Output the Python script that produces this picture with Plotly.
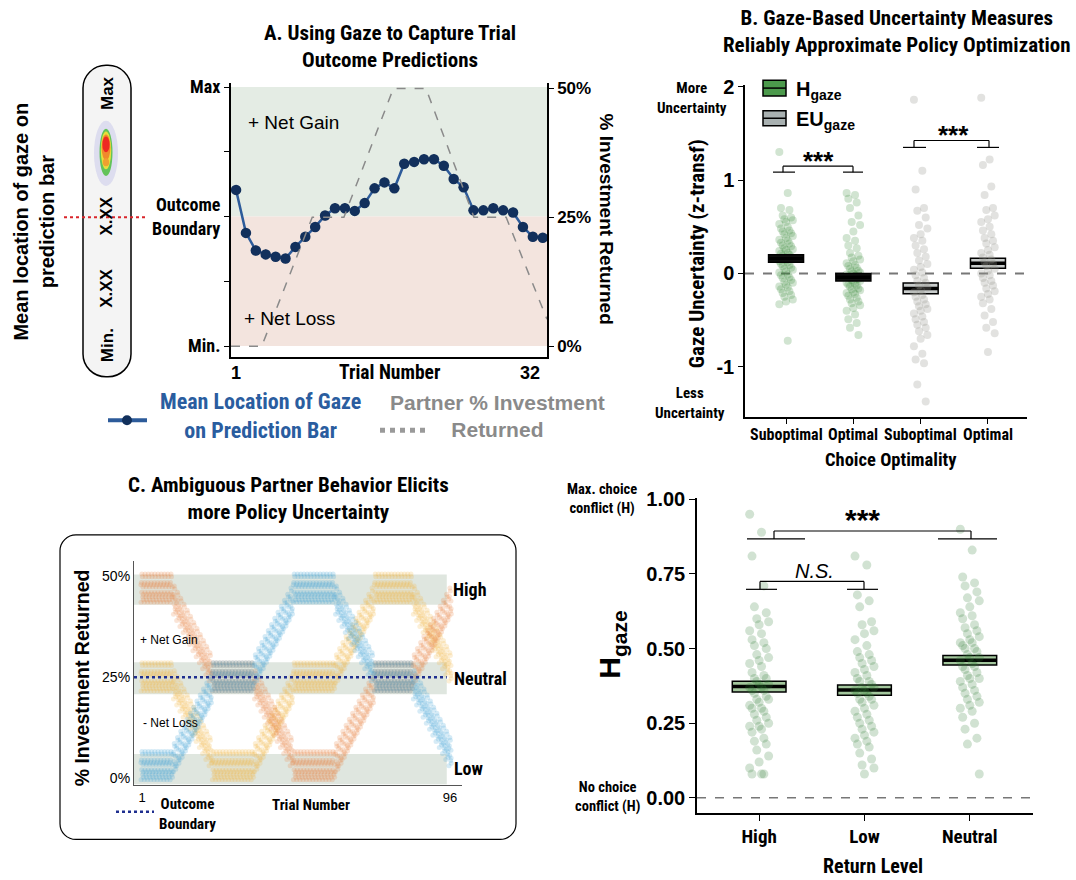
import plotly.graph_objects as go

W, H = 1076, 880
COND = "Roboto Condensed, Liberation Sans Narrow, Lato"
REG = "Liberation Sans"

# ---------------- DATA ----------------
# Panel A: mean gaze location on prediction bar (0 = Min, 0.5 = boundary, 1 = Max)
trials_a = list(range(1, 33))
gaze_mean = [0.603, 0.437, 0.369, 0.354, 0.345, 0.338, 0.383, 0.422, 0.460, 0.504,
             0.532, 0.532, 0.522, 0.552, 0.609, 0.632, 0.609, 0.704, 0.711, 0.721,
             0.721, 0.696, 0.645, 0.613, 0.524, 0.524, 0.532, 0.524, 0.516, 0.460,
             0.422, 0.418]
partner_trial = [0.49, 3.6, 8.7, 11.9, 16.9, 20.2, 25.05, 28.3, 32.43]
partner_pct = [0, 0, 25, 25, 50, 50, 25, 25, 5.2]

# Panel B: gaze uncertainty (z-transformed)
b_ticktext = ["Suboptimal", "Optimal", "Suboptimal", "Optimal"]
b_means = [0.16, -0.04, -0.16, 0.11]
b_se = [0.04, 0.04, 0.058, 0.053]
h_sub = [1.30, 0.86, 0.70, 0.68, 0.62, 0.60, 0.58, 0.57, 0.55, 0.53, 0.50, 0.48, 0.46,
         0.45, 0.43, 0.42, 0.40, 0.38, 0.36, 0.35, 0.33, 0.32, 0.30, 0.29, 0.27, 0.26,
         0.25, 0.24, 0.22, 0.21, 0.20, 0.19, 0.18, 0.17, 0.15, 0.14, 0.13, 0.12, 0.10,
         0.09, 0.08, 0.06, 0.05, 0.04, 0.02, 0.01, -0.01, -0.02, -0.04, -0.05, -0.07,
         -0.09, -0.10, -0.12, -0.14, -0.15, -0.17, -0.19, -0.21, -0.23, -0.25, -0.28,
         -0.30, -0.33, -0.72]
h_opt = [0.86, 0.84, 0.80, 0.76, 0.70, 0.62, 0.55, 0.52, 0.45, 0.38, 0.35, 0.30, 0.27,
         0.22, 0.19, 0.17, 0.15, 0.13, 0.11, 0.09, 0.08, 0.06, 0.05, 0.03, 0.02, 0.01,
         0.00, -0.01, -0.02, -0.03, -0.04, -0.05, -0.06, -0.07, -0.08, -0.09, -0.10,
         -0.11, -0.12, -0.13, -0.14, -0.16, -0.17, -0.18, -0.20, -0.21, -0.22, -0.24,
         -0.26, -0.28, -0.30, -0.32, -0.34, -0.37, -0.40, -0.44, -0.49, -0.53, -0.58, -0.66]
eu_sub = [1.86, 1.10, 0.90, 0.70, 0.67, 0.60, 0.52, 0.48, 0.42, 0.38, 0.35, 0.30, 0.26,
          0.22, 0.18, 0.14, 0.10, 0.07, 0.04, 0.01, -0.02, -0.05, -0.08, -0.10, -0.13,
          -0.15, -0.18, -0.20, -0.23, -0.25, -0.28, -0.30, -0.33, -0.35, -0.38, -0.40,
          -0.43, -0.46, -0.49, -0.52, -0.55, -0.58, -0.62, -0.66, -0.70, -0.78, -0.86,
          -0.92, -0.96, -1.19, -1.37]
eu_opt = [1.88, 1.22, 1.16, 0.93, 0.84, 0.70, 0.68, 0.62, 0.58, 0.55, 0.50, 0.46, 0.42,
          0.38, 0.35, 0.32, 0.28, 0.25, 0.22, 0.20, 0.17, 0.15, 0.12, 0.10, 0.08, 0.05,
          0.03, 0.00, -0.02, -0.05, -0.08, -0.10, -0.13, -0.16, -0.19, -0.22, -0.25,
          -0.28, -0.32, -0.38, -0.45, -0.52, -0.58, -0.64, -0.84]

# Panel C: % investment returned per trial for three partner schedules
trials_c = list(range(1, 97))
orange_c = [47, 47, 47, 47, 47, 47, 47, 47, 47, 47,
            44, 42.5, 41, 39.5, 38, 36.5, 35, 33.5, 32, 30.5, 29, 27.5,
            25, 25, 25, 25, 25, 25, 25, 25, 25, 25, 25, 25, 25,
            23, 21.5, 20, 18.5, 17, 15.5, 14, 12.5, 11, 9.5, 8, 6.5,
            3, 3, 3, 3, 3, 3, 3, 3, 3, 3, 3, 3, 3,
            5, 6.5, 8, 9.5, 11, 12.5, 14, 15.5, 17, 18.5, 20, 21.5,
            25, 25, 25, 25, 25, 25, 25, 25, 25, 25, 25, 25,
            27, 28.5, 30, 31.5, 33, 34.5, 36, 37.5, 39, 40.5, 42, 43.5]
blue_c = [3, 3, 3, 3, 3, 3, 3, 3, 3, 3,
          5, 6.5, 8, 9.5, 11, 12.5, 14, 15.5, 17, 18.5, 20, 21.5,
          25, 25, 25, 25, 25, 25, 25, 25, 25, 25, 25, 25, 25,
          27, 28.5, 30, 31.5, 33, 34.5, 36, 37.5, 39, 40.5, 42, 43.5,
          47, 47, 47, 47, 47, 47, 47, 47, 47, 47, 47, 47, 47,
          44, 42.5, 41, 39.5, 38, 36.5, 35, 33.5, 32, 30.5, 29, 27.5,
          25, 25, 25, 25, 25, 25, 25, 25, 25, 25, 25, 25,
          23, 21.5, 20, 18.5, 17, 15.5, 14, 12.5, 11, 9.5, 8, 6.5]
yellow_c = [25, 25, 25, 25, 25, 25, 25, 25, 25, 25,
            23, 21.5, 20, 18.5, 17, 15.5, 14, 12.5, 11, 9.5, 8, 6.5,
            3, 3, 3, 3, 3, 3, 3, 3, 3, 3, 3, 3, 3,
            5, 6.5, 8, 9.5, 11, 12.5, 14, 15.5, 17, 18.5, 20, 21.5,
            25, 25, 25, 25, 25, 25, 25, 25, 25, 25, 25, 25, 25,
            27, 28.5, 30, 31.5, 33, 34.5, 36, 37.5, 39, 40.5, 42, 43.5,
            47, 47, 47, 47, 47, 47, 47, 47, 47, 47, 47, 47,
            44, 42.5, 41, 39.5, 38, 36.5, 35, 33.5, 32, 30.5, 29, 27.5]
bands_c = [("High", 43.0, 50.5), ("Neutral", 20.8, 28.7), ("Low", -1.5, 6.0)]

# Panel D: H_gaze by return level
d_ticktext = ["High", "Low", "Neutral"]
d_means = [0.373, 0.361, 0.461]
d_se = [0.018, 0.017, 0.016]
d_high = [0.95, 0.89, 0.81, 0.71, 0.64, 0.62, 0.60, 0.59, 0.58, 0.56, 0.55, 0.53, 0.52,
          0.51, 0.50, 0.48, 0.47, 0.46, 0.45, 0.44, 0.42, 0.41, 0.40, 0.40, 0.39, 0.38,
          0.38, 0.37, 0.37, 0.36, 0.36, 0.35, 0.34, 0.33, 0.33, 0.32, 0.31, 0.30, 0.30,
          0.29, 0.28, 0.27, 0.26, 0.25, 0.24, 0.24, 0.23, 0.22, 0.20, 0.19, 0.18, 0.16,
          0.14, 0.12, 0.10, 0.08, 0.08, 0.08]
d_low = [0.81, 0.78, 0.68, 0.66, 0.64, 0.59, 0.58, 0.56, 0.55, 0.53, 0.51, 0.49, 0.48,
         0.47, 0.46, 0.45, 0.44, 0.43, 0.42, 0.41, 0.40, 0.39, 0.39, 0.38, 0.37, 0.37,
         0.36, 0.36, 0.35, 0.35, 0.34, 0.33, 0.33, 0.32, 0.31, 0.30, 0.29, 0.28, 0.27,
         0.26, 0.25, 0.24, 0.23, 0.22, 0.21, 0.20, 0.19, 0.18, 0.17, 0.15, 0.13, 0.11,
         0.10, 0.08]
d_neutral = [0.90, 0.83, 0.74, 0.72, 0.71, 0.69, 0.67, 0.66, 0.64, 0.62, 0.61, 0.60,
             0.58, 0.57, 0.56, 0.55, 0.54, 0.53, 0.52, 0.52, 0.51, 0.50, 0.50, 0.49,
             0.48, 0.47, 0.47, 0.46, 0.45, 0.44, 0.44, 0.43, 0.42, 0.41, 0.40, 0.40,
             0.39, 0.38, 0.37, 0.36, 0.35, 0.34, 0.33, 0.32, 0.31, 0.30, 0.29, 0.27,
             0.25, 0.23, 0.20, 0.18, 0.08]


# ---------------- helpers ----------------
def X(p):
    return p / W


def Y(p):
    return 1 - p / H


fig = go.Figure()


def ann(text, x, y, size, color="black", family=COND, bold=True, angle=0,
        xanchor="center", italic=False, xref="paper"):
    fig.add_annotation(text=text, x=X(x) if xref == "paper" else x, y=Y(y),
                       xref=xref, yref="paper",
                       showarrow=False, textangle=angle, xanchor=xanchor,
                       yanchor="middle", align="center",
                       font=dict(family=family, size=size, color=color,
                                 weight="bold" if bold else "normal",
                                 style="italic" if italic else "normal"))


def seg(x0, y0, x1, y1, color="black", width=1.2, dash="solid"):
    fig.add_shape(type="line", xref="paper", yref="paper", x0=X(x0), y0=Y(y0),
                  x1=X(x1), y1=Y(y1), line=dict(color=color, width=width, dash=dash))


def rrect(x0, y0, x1, y1, r, fill, lw, layer="below"):
    k = 0.5523 * r
    p = (f"M {X(x0 + r)},{Y(y0)} L {X(x1 - r)},{Y(y0)} "
         f"C {X(x1 - r + k)},{Y(y0)} {X(x1)},{Y(y0 + r - k)} {X(x1)},{Y(y0 + r)} "
         f"L {X(x1)},{Y(y1 - r)} "
         f"C {X(x1)},{Y(y1 - r + k)} {X(x1 - r + k)},{Y(y1)} {X(x1 - r)},{Y(y1)} "
         f"L {X(x0 + r)},{Y(y1)} "
         f"C {X(x0 + r - k)},{Y(y1)} {X(x0)},{Y(y1 - r + k)} {X(x0)},{Y(y1 - r)} "
         f"L {X(x0)},{Y(y0 + r)} "
         f"C {X(x0)},{Y(y0 + r - k)} {X(x0 + r - k)},{Y(y0)} {X(x0 + r)},{Y(y0)} Z")
    fig.add_shape(type="path", path=p, xref="paper", yref="paper", fillcolor=fill,
                  line=dict(color="black", width=lw), layer=layer)


def ell(cx, cy, rx, ry, color):
    fig.add_shape(type="circle", xref="paper", yref="paper", x0=X(cx - rx), x1=X(cx + rx),
                  y0=Y(cy + ry), y1=Y(cy - ry), fillcolor=color, line=dict(width=0))


def jitter(n, amp):
    return [amp * (((i * 5) % 9) - 4) / 4 for i in range(n)]


def crossbar(xr, yr, cx, mean, se, hw, fill, layer):
    fig.add_shape(type="rect", xref=xr, yref=yr, x0=cx - hw, x1=cx + hw,
                  y0=mean - se, y1=mean + se, fillcolor=fill,
                  line=dict(color="black", width=1.5), layer=layer)
    fig.add_shape(type="line", xref=xr, yref=yr, x0=cx - hw, x1=cx + hw,
                  y0=mean, y1=mean, line=dict(color="black", width=3.5), layer=layer)


# ---------------- Panel A ----------------
fig.add_shape(type="rect", xref="x domain", yref="y", x0=0, x1=1, y0=0.5, y1=1,
              fillcolor="#e4ece4", line=dict(width=0), layer="below")
fig.add_shape(type="rect", xref="x domain", yref="y", x0=0, x1=1, y0=0, y1=0.5,
              fillcolor="#f3e4de", line=dict(width=0), layer="below")
fig.add_trace(go.Scatter(x=trials_a, y=gaze_mean, mode="lines+markers",
                         line=dict(color="#2d5b9a", width=2.5),
                         marker=dict(size=10.5, color="#12305c"),
                         error_y=dict(type="constant", value=0.018, color="black",
                                      thickness=1.5, width=0),
                         xaxis="x", yaxis="y", showlegend=False, hoverinfo="skip"))
fig.add_trace(go.Scatter(x=partner_trial, y=partner_pct, mode="lines",
                         line=dict(color="#8a8a8a", width=1.5, dash="dash"),
                         xaxis="x", yaxis="y2", showlegend=False, hoverinfo="skip"))

# ---------------- Panel B ----------------
b_groups = [h_sub, h_opt, eu_sub, eu_opt]
b_colors = ["rgba(46,130,46,0.22)", "rgba(46,130,46,0.22)",
            "rgba(150,152,142,0.28)", "rgba(150,152,142,0.28)"]
for k, vals in enumerate(b_groups):
    fig.add_trace(go.Scatter(x=[k + 1 + j for j in jitter(len(vals), 0.1)], y=vals,
                             mode="markers", marker=dict(size=8, color=b_colors[k]),
                             xaxis="x3", yaxis="y3", showlegend=False, hoverinfo="skip"))
for k in range(4):
    if k < 2:
        crossbar("x3", "y3", k + 1, b_means[k], b_se[k], 0.26, "#111111", "above")
    else:
        crossbar("x3", "y3", k + 1, b_means[k], b_se[k], 0.26, "#c9cdcc", "below")
fig.add_shape(type="line", xref="x3 domain", yref="y3", x0=0, x1=1, y0=0, y1=0,
              line=dict(color="#777777", width=2, dash="dash"), layer="below")

# ---------------- Panel C ----------------
for name, lo, hi in bands_c:
    fig.add_shape(type="rect", xref="x4", yref="y4", x0=-1.47, x1=95.0, y0=lo, y1=hi,
                  fillcolor="#dfe6df", line=dict(width=0), layer="below")
offs_y = [-3.4, -2.1, -0.9, 0.4, 1.5, 2.9, -1.5, 0.9, 3.6, -2.8]
offs_x = [-0.3, 0.2, -0.1, 0.3, -0.2, 0.1, 0.35, -0.35, -0.05, 0.4]
for series, col in [(yellow_c, "rgba(242,180,70,0.22)"), (orange_c, "rgba(232,130,70,0.22)"),
                    (blue_c, "rgba(70,162,214,0.22)")]:
    xs, ys = [], []
    for t, c in zip(trials_c, series):
        for dx, dy in zip(offs_x, offs_y):
            xs.append(t + dx)
            ys.append(c + dy)
    fig.add_trace(go.Scatter(x=xs, y=ys, mode="markers",
                             marker=dict(size=5, color=col),
                             xaxis="x4", yaxis="y4", showlegend=False, hoverinfo="skip"))
fig.add_shape(type="line", xref="x4", yref="y4", x0=-1.47, x1=95.0, y0=25, y1=25,
              line=dict(color="#1f2f8f", width=2.5, dash="dot"))

# ---------------- Panel D ----------------
d_groups = [d_high, d_low, d_neutral]
for k, vals in enumerate(d_groups):
    fig.add_trace(go.Scatter(x=[k + 1 + j for j in jitter(len(vals), 0.09)], y=vals,
                             mode="markers", marker=dict(size=9, color="rgba(46,125,50,0.22)"),
                             xaxis="x5", yaxis="y5", showlegend=False, hoverinfo="skip"))
for k in range(3):
    crossbar("x5", "y5", k + 1, d_means[k], d_se[k], 0.255, "#a3c79d", "below")
fig.add_shape(type="line", xref="x5 domain", yref="y5", x0=0, x1=1, y0=0, y1=0,
              line=dict(color="#777777", width=1.5, dash="dash"), layer="below")

# ---------------- axes ----------------
base = dict(showgrid=False, zeroline=False, showline=True, linecolor="black",
            tickcolor="black")


def tf_cond(s):
    return dict(family=COND, size=s, color="black", weight="bold")


def tf_reg(s):
    return dict(family=REG, size=s, color="black", weight="bold")


fig.update_layout(
    width=W, height=H, margin=dict(l=0, r=0, t=0, b=0),
    paper_bgcolor="white", plot_bgcolor="rgba(0,0,0,0)", showlegend=False,
    xaxis=dict(base, domain=[X(231), X(547)], range=[0.49, 32.43], anchor="y",
               linewidth=2, ticks="", showticklabels=False),
    yaxis=dict(base, domain=[Y(352), Y(75)], range=[-0.042, 1.015], anchor="x",
               linewidth=2, ticks="outside", ticklen=5,
               tickvals=[0, 0.5, 1],
               ticktext=["Min.", "Outcome<br>Boundary", "Max"],
               minor=dict(tick0=0, dtick=0.25, ticks="outside", ticklen=5,
                          tickcolor="black"),
               tickfont=tf_cond(18)),
    yaxis2=dict(base, overlaying="y", side="right", anchor="x", range=[-2.11, 51.04],
                linewidth=1.5, ticks="outside", ticklen=5, tickvals=[0, 25, 50],
                ticktext=["0%", "25%", "50%"], tickfont=tf_reg(17)),
    xaxis3=dict(base, domain=[X(745), X(1027)], range=[0.39, 4.58], anchor="y3",
                linewidth=1.5, ticks="outside", ticklen=5, tickvals=[1, 2, 3, 4],
                showticklabels=False),
    yaxis3=dict(base, domain=[Y(413), Y(77)], range=[-1.54, 2.016], anchor="x3",
                linewidth=1.5, ticks="outside", ticklen=5, tickvals=[-1, 0, 1, 2],
                ticktext=["-1", "0", "1", "2"], tickfont=tf_reg(20)),
    xaxis4=dict(base, domain=[X(134), X(462)], range=[-1.47, 99.7], anchor="y4",
                linewidth=1.2, linecolor="#555555", ticks="", tickvals=[1, 96],
                ticktext=["1", "96"], tickangle=0,
                tickfont=dict(family=REG, size=13, color="black")),
    yaxis4=dict(base, domain=[Y(785), Y(558)], range=[-1.72, 53.9], anchor="x4",
                linewidth=1.2, linecolor="#555555", ticks="", tickvals=[0, 25, 50],
                ticktext=["0%", "25%", "50%"],
                tickfont=dict(family=REG, size=14, color="black")),
    xaxis5=dict(base, domain=[X(697), X(1033)], range=[0.41, 3.6], anchor="y5",
                linewidth=1.5, ticks="outside", ticklen=6, tickvals=[1, 2, 3],
                ticktext=d_ticktext, tickfont=tf_cond(19), tickangle=0),
    yaxis5=dict(base, domain=[Y(813), Y(494.5)], range=[-0.05, 1.005], anchor="x5",
                linewidth=1.5, ticks="outside", ticklen=6,
                tickvals=[0, 0.25, 0.5, 0.75, 1.0],
                ticktext=["0.00", "0.25", "0.50", "0.75", "1.00"], tickfont=tf_reg(20)),
)

# ---------------- Panel A decorations ----------------
ann("A. Using Gaze to Capture Trial<br>Outcome Predictions", 390, 38, 21)
ann("Mean location of gaze on<br>prediction bar", 34, 215, 20, family=REG, angle=-90)
rrect(83, 57, 131, 372, 23, "#f4f4f4", 1.5)
# gaze heat blob
ell(106, 146, 12, 33, "rgba(160,160,225,0.28)")
ell(106, 145, 6.5, 24, "#63c35a")
ell(106, 143, 5.2, 19, "#e7df3c")
ell(106, 140, 4.4, 13, "#f08a2c")
ell(106, 137, 3.6, 8, "#ee2a22")
ell(106, 155, 3.2, 4, "#f0a030")
for txt, yy in [("Max", 85), ("X.XX", 210), ("X.XX", 283), ("Min.", 340)]:
    ann(txt, 107, yy, 17, family=REG, angle=-90)
seg(64, 210.7, 146, 210.7, color="#d9252b", width=2, dash="dot")
ann("+ Net Gain", 246, 115, 19, family=REG, bold=False, xanchor="left")
ann("+ Net Loss", 242, 313, 19, family=REG, bold=False, xanchor="left")
ann("1", 236, 368, 18, family=REG)
ann("Trial Number", 390, 368, 19.5)
ann("32", 530, 368, 18, family=REG)
ann("% Investment Returned", 606, 212, 19, family=REG, angle=90)
seg(108, 416, 147, 416, color="#2d5b9a", width=4)
ell(127, 416, 5, 5, "#12305c")
ann("Mean Location of Gaze<br>on Prediction Bar", 260, 412, 22, color="#2a5d9f")
seg(380, 426, 425, 426, color="#9a9a9a", width=5, dash="dot")
ann("Partner % Investment<br>Returned", 497, 412, 21, family=REG, color="#8a8a8a")

# ---------------- Panel B decorations ----------------
ann("B. Gaze-Based Uncertainty Measures<br>Reliably Approximate Policy Optimization",
    897, 23, 21)
ann("More<br>Uncertainty", 692, 90, 15)
ann("Less<br>Uncertainty", 690, 399, 15)
ann("Gaze Uncertainty (z-transf)", 697, 248, 21, angle=-90)
for k, lab in enumerate(b_ticktext):
    ann(lab, k + 1, 430, 16, xref="x3")
ann("Choice Optimality", 891, 456, 18.5)
for (y0, y1, fill, lab, ly) in [(72, 88, "#4c9a4c", "H<sub>gaze</sub>", 82),
                                (103, 118, "#a9b1b1", "EU<sub>gaze</sub>", 113)]:
    fig.add_shape(type="rect", xref="paper", yref="paper", x0=X(763), x1=X(786),
                  y0=Y(y1), y1=Y(y0), fillcolor=fill, line=dict(color="black", width=1.5))
    seg(763, (y0 + y1) / 2, 786, (y0 + y1) / 2, width=1.5)
    ann(lab, 794, ly, 20, family=REG, xanchor="left")
# significance brackets B
seg(783, 159, 853, 159); seg(783, 159, 783, 165); seg(853, 159, 853, 165)
seg(773, 165, 795, 165); seg(843, 165, 863, 165)
ann("***", 818, 154, 26, family=REG)
seg(914, 133, 989, 133); seg(914, 133, 914, 140); seg(989, 133, 989, 140)
seg(903, 140, 926, 140); seg(977, 140, 999, 140)
ann("***", 953, 127, 26, family=REG)

# ---------------- Panel C decorations ----------------
ann("C. Ambiguous Partner Behavior Elicits<br>more Policy Uncertainty", 288, 495, 21)
rrect(60, 532, 516, 840, 16, "rgba(0,0,0,0)", 1.2)
ann("% Investment Returned", 82, 677, 19.5, family=REG, angle=-90)
ann("High", 470, 587, 18)
ann("Neutral", 480, 677, 18)
ann("Low", 469, 768, 18)
ann("+ Net Gain", 138, 638, 12, family=REG, bold=False, xanchor="left")
ann("- Net Loss", 141, 722, 12, family=REG, bold=False, xanchor="left")
ann("Trial Number", 311, 805, 15)
ann("Outcome<br>Boundary", 187, 814, 15)
seg(116, 812, 154, 812, color="#1f2f8f", width=2.5, dash="dot")

# ---------------- Panel D decorations ----------------
ann("Max. choice<br>conflict (H)", 602, 496, 14.5)
ann("No choice<br>conflict (H)", 607, 797, 14.5)
ann("H<sub>gaze</sub>", 612, 643, 30, family=REG, angle=-90)
ann("Return Level", 873, 867, 20)
seg(774, 528, 971, 528); seg(774, 528, 774, 536); seg(971, 528, 971, 536)
seg(747, 536, 805, 536); seg(938, 536, 997, 536)
ann("***", 863, 516, 30, family=REG)
seg(760, 579, 864, 579); seg(760, 579, 760, 587); seg(864, 579, 864, 587)
seg(746, 587, 777, 587); seg(847, 587, 878, 587)
ann("N.S.", 814, 568, 20, family=REG, bold=False, italic=True)

fig.write_html("out.html")
